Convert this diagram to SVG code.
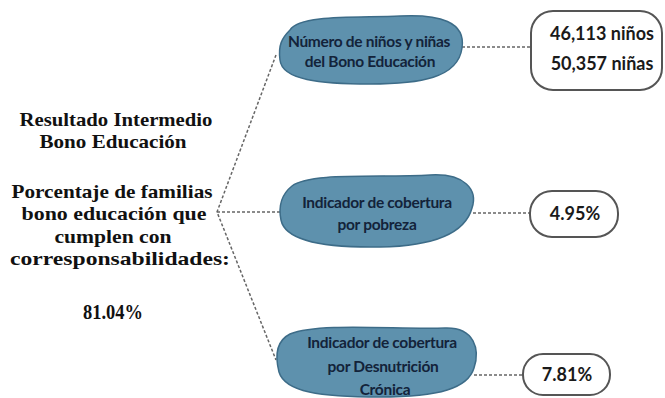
<svg xmlns="http://www.w3.org/2000/svg" width="665" height="398" viewBox="0 0 665 398">
<style>
.ttl{font-family:"Liberation Serif",serif;font-weight:bold;font-size:19px;fill:#111;text-anchor:middle}
.blob{fill:#5e91ad;stroke:#3d6c88;stroke-width:1.5}
.nt{font-family:Lato,"Open Sans",sans-serif;font-weight:bold;font-size:15.5px;fill:#13233a;text-anchor:middle;letter-spacing:-0.3px}
.box{fill:#fff;stroke:#555;stroke-width:2}
.bt{font-family:Lato,"Open Sans",sans-serif;font-weight:bold;font-size:18px;fill:#1a1a1a;text-anchor:middle}
.con{fill:none;stroke:#666;stroke-width:1.5;stroke-dasharray:3 2}
</style>
<rect width="665" height="398" fill="#fff"/>
<g id="connectors">
<path class="con" d="M276,55 L217,212 L276,360"/>
<path class="con" d="M217,212 L283,212"/>
<path class="con" d="M462,47 L531,47"/>
<path class="con" d="M473,213 L530,213"/>
<path class="con" d="M474,375 L523,375"/>
</g>
<g id="root">
<text class="ttl" x="116" y="126" textLength="193" lengthAdjust="spacingAndGlyphs">Resultado Intermedio</text>
<text class="ttl" x="113" y="148" textLength="147" lengthAdjust="spacingAndGlyphs">Bono Educación</text>
<text class="ttl" x="112" y="198" textLength="201" lengthAdjust="spacingAndGlyphs">Porcentaje de familias</text>
<text class="ttl" x="114" y="220" textLength="185" lengthAdjust="spacingAndGlyphs">bono educación que</text>
<text class="ttl" x="113" y="243" textLength="117" lengthAdjust="spacingAndGlyphs">cumplen con</text>
<text class="ttl" x="120" y="265" textLength="220" lengthAdjust="spacingAndGlyphs">corresponsabilidades:</text>
<text class="ttl" x="113" y="319" style="font-size:20px" textLength="60" lengthAdjust="spacingAndGlyphs">81.04%</text>
</g>
<g id="node-ninos">
<path class="blob" d="M290,30 C300,14 360,18 400,16 C440,14 466,22 462,48 C458,78 420,84 370,84 C320,84 282,80 280,60 C278,45 282,38 290,30 Z"/>
<text class="nt" x="369" y="47">Número de niños y niñas</text>
<text class="nt" x="370" y="67">del Bono Educación</text>
</g>
<g id="node-pobreza">
<path class="blob" d="M292,186 C310,172 380,178 430,175 C465,173 478,190 472,208 C466,230 440,246 380,247 C320,248 285,240 281,220 C278,205 282,194 292,186 Z"/>
<text class="nt" x="377" y="208">Indicador de cobertura</text>
<text class="nt" x="377" y="230">por pobreza</text>
</g>
<g id="node-desnutricion">
<path class="blob" d="M290,334 C320,322 400,330 445,328 C475,327 480,350 474,368 C468,388 440,397 380,397 C320,397 285,392 279,372 C274,352 278,340 290,334 Z"/>
<text class="nt" x="382" y="348">Indicador de cobertura</text>
<text class="nt" x="383" y="372">por Desnutrición</text>
<text class="nt" x="385" y="395">Crónica</text>
</g>
<g id="box-ninos">
<rect class="box" x="531" y="11" width="131" height="79" rx="22"/>
<text class="bt" x="602" y="40">46,113 niños</text>
<text class="bt" x="602" y="70">50,357 niñas</text>
</g>
<g id="box-pobreza">
<rect class="box" x="530" y="191" width="88" height="46" rx="22"/>
<text class="bt" x="575" y="220">4.95%</text>
</g>
<g id="box-desnutricion">
<rect class="box" x="523" y="354" width="87" height="41" rx="20"/>
<text class="bt" x="567" y="381">7.81%</text>
</g>
</svg>
